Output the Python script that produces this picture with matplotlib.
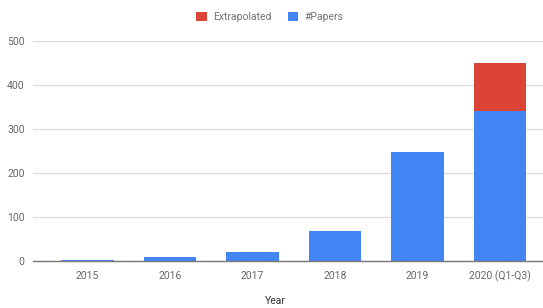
import matplotlib
matplotlib.use("Agg")
import matplotlib.pyplot as plt
from matplotlib.patches import Patch

categories = ["2015", "2016", "2017", "2018", "2019", "2020 (Q1-Q3)"]
papers = [3, 9, 21, 68, 247, 340]
extrapolated = [0, 0, 0, 0, 0, 110]
yticks = [0, 100, 200, 300, 400, 500]

plt.rcParams['font.family'] = ['Roboto', 'DejaVu Sans']
BLUE = "#4285F4"
RED = "#DB4437"

fig = plt.figure(figsize=(5.43, 3.08), dpi=100)
ax = fig.add_axes([33/543, (308-261)/308, (543-33)/543, 220/308])

x = list(range(len(categories)))
ax.bar(x, papers, width=0.64, color=BLUE, zorder=3)
ax.bar(x, extrapolated, width=0.64, bottom=papers, color=RED, zorder=3)

ax.set_xlim(-0.66, 5.52)
ax.set_ylim(0, 500)
ax.set_yticks(yticks)
ax.set_xticks(x)
ax.set_xticklabels(categories)
ax.tick_params(axis='both', length=0, labelsize=7.5, colors="#666666")
ax.tick_params(axis='x', pad=7)
ax.tick_params(axis='y', pad=6)
for s in ["top", "right", "left"]:
    ax.spines[s].set_visible(False)
ax.spines["bottom"].set_color("#777777")
ax.spines["bottom"].set_linewidth(1)
ax.spines["bottom"].set_zorder(4)
ax.grid(axis='y', color="#dddddd", linewidth=1, zorder=0)

fig.text(275/543, 1 - 301/308, "Year", ha='center', va='center', fontsize=7.5, color="#333333")

handles = [Patch(facecolor=RED, label="Extrapolated"), Patch(facecolor=BLUE, label="#Papers")]
fig.legend(handles=handles, loc='center', bbox_to_anchor=(270/543, 1 - 17/308), ncol=2,
           frameon=False, fontsize=7.5, handlelength=1.0, handleheight=1.0,
           handletextpad=0.6, columnspacing=1.6, labelcolor="#757575")

fig.savefig("out.png", dpi=100)
